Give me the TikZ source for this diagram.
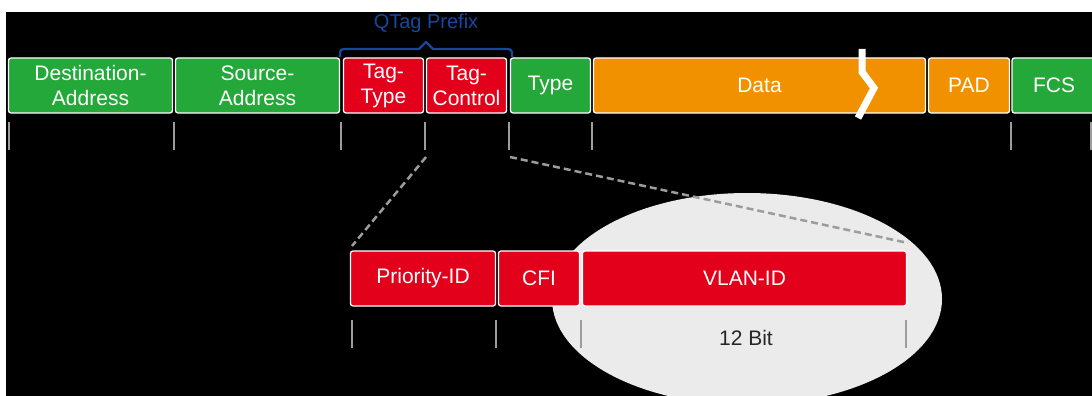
\documentclass[tikz,border=0pt]{standalone}
\usepackage{fontspec}
\setmainfont{Liberation Sans}
\definecolor{fgreen}{HTML}{24A83A}
\definecolor{fred}{HTML}{E2001A}
\definecolor{forange}{HTML}{F29100}
\definecolor{qblue}{HTML}{17479E}
\definecolor{tickgray}{HTML}{9C9C9C}
\definecolor{zoomgray}{HTML}{EBEBEB}
\begin{document}
\begin{tikzpicture}[x=1pt,y=-1pt,
  field/.style={draw=white, line width=1.3pt, rounded corners=2.5pt,
    text=white, font=\fontsize{21}{25}\selectfont, align=center,
    inner sep=0pt, minimum height=55pt},
  tick/.style={draw=tickgray, line width=2.2pt},
  zoomline/.style={draw=tickgray, line width=2.5pt, dash pattern=on 7pt off 4pt}]
  % canvas: white margin at top and left, black field area
  \useasboundingbox (0,0) rectangle (1092,396);
  \fill[white] (0,0) rectangle (1092,396);
  \fill[black] (6,12) rectangle (1092,396);

  % magnifier highlight behind the VLAN-ID field
  \fill[zoomgray] (747,299) ellipse [x radius=195, y radius=106];

  % Ethernet frame with 802.1Q tag
  \node[field, fill=fgreen,  minimum width=164pt] (dst)   at (90.5,85.5)  {Destination-\\Address};
  \node[field, fill=fgreen,  minimum width=164pt] (src)   at (257.5,85.5) {Source-\\Address};
  \node[field, fill=fred,    minimum width=80pt]  (ttype) at (383.5,85.5) {Tag-\\Type};
  \node[field, fill=fred,    minimum width=80pt]  (tctrl) at (466.5,85.5) {Tag-\\Control};
  \node[field, fill=fgreen,  minimum width=80pt]  (type)  at (550.5,85.5) {Type};
  \node[field, fill=forange, minimum width=332pt] (data)  at (759.5,85.5) {Data};
  \node[field, fill=forange, minimum width=81pt]  (pad)   at (969,85.5)   {PAD};
  \node[field, fill=fgreen,  minimum width=84pt]  (fcs)   at (1054,85.5)  {FCS};

  % break mark inside the data field
  \draw[white, line width=7pt, line join=miter] (862,49) -- (862,72) -- (874,88) -- (858,118);

  % brace over the tag fields
  \draw[qblue, line width=2.3pt, line join=round]
    (340,57) .. controls (340,49) .. (348,49) -- (419,49) -- (426,42) -- (433,49)
    -- (504,49) .. controls (512,49) .. (512,57);
  \node[text=qblue, font=\fontsize{20}{24}\selectfont] (qtag) at (426,23) {QTag Prefix};

  % field boundary ticks
  \foreach \x in {9,174,341,425,509,592,1011,1091}
    \draw[tick] (\x,122) -- (\x,150);

  % expansion of the tag control field
  \coordinate (tcl) at (426,157);
  \coordinate (tcr) at (510,157);
  \coordinate (pl) at (352,246);
  \coordinate (pr) at (908,243);
  \draw[zoomline] (tcl) -- (pl);
  \draw[zoomline] (tcr) -- (pr);

  \node[field, fill=fred, minimum width=145pt] (prio) at (423,278.5)   {Priority-ID};
  \node[field, fill=fred, minimum width=81pt]  (cfi)  at (539,278.5)   {CFI};
  \node[field, fill=fred, minimum width=324pt] (vlan) at (744.5,278.5) {VLAN-ID};

  \foreach \x in {352,496,581,906}
    \draw[tick] (\x,320) -- (\x,348);
  \node[text=black!85, font=\fontsize{21}{24}\selectfont] (bits) at (746,338) {12 Bit};
\end{tikzpicture}
\end{document}
